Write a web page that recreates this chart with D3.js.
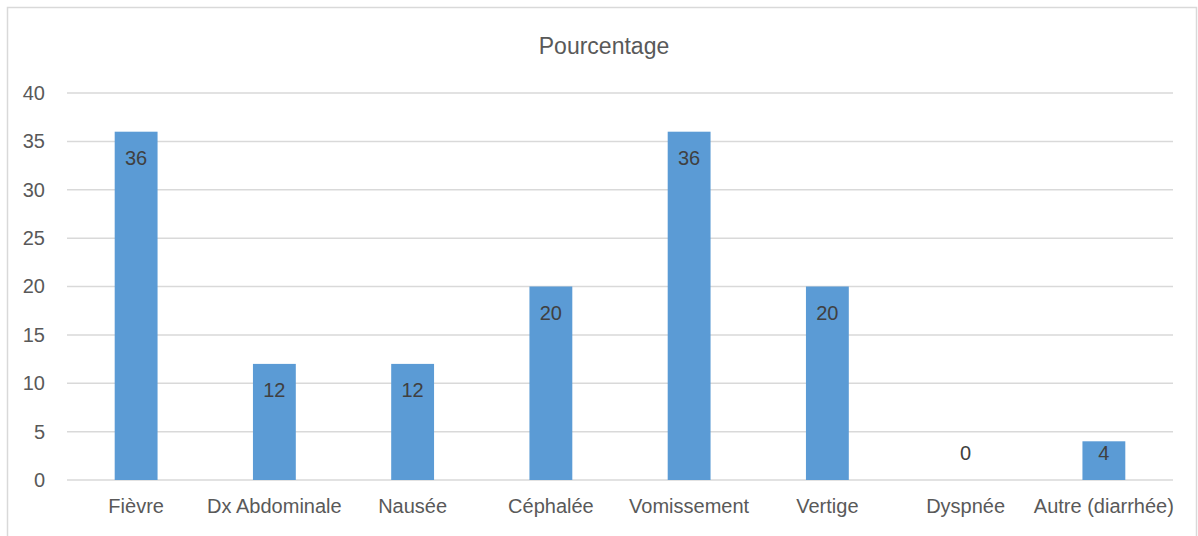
<!DOCTYPE html>
<html>
<head>
<meta charset="utf-8">
<script src="https://cdn.jsdelivr.net/npm/d3@7"></script>
<style>
  body { margin: 0; background: #fff; }
  text { font-family: "Liberation Sans", Arial, sans-serif; }
</style>
</head>
<body>
<div id="chart"></div>
<script>
var categories = ["Fièvre", "Dx Abdominale", "Nausée", "Céphalée", "Vomissement", "Vertige", "Dyspnée", "Autre (diarrhée)"];
var values = [36, 12, 12, 20, 36, 20, 0, 4];
var yTicks = [0, 5, 10, 15, 20, 25, 30, 35, 40];
var chartTitle = "Pourcentage";

var width = 1198, height = 536;

var svg = d3.select("#chart").append("svg")
	.attr("width", width)
	.attr("height", height);

// outer frame
svg.append("rect")
	.attr("x", 7.5).attr("y", 7.5)
	.attr("width", 1189).attr("height", 540)
	.attr("fill", "#fff")
	.attr("stroke", "#d9d9d9")
	.attr("stroke-width", 1.5);

var x = d3.scaleBand()
	.domain(categories)
	.range([67, 1173])
	.paddingInner(0.69)
	.paddingOuter(0.345);

var y = d3.scaleLinear()
	.domain([0, 40])
	.range([480, 93]);

svg.append("text")
	.attr("x", 604).attr("y", 54)
	.attr("text-anchor", "middle")
	.attr("font-size", 23)
	.attr("fill", "#595959")
	.text(chartTitle);

// gridlines
svg.selectAll("line.grid")
	.data(yTicks).enter().append("line")
	.attr("class", "grid")
	.attr("x1", 67).attr("x2", 1173)
	.attr("y1", function (d) { return y(d); })
	.attr("y2", function (d) { return y(d); })
	.attr("stroke", "#d9d9d9")
	.attr("stroke-width", 1.5);

var yAxis = svg.append("g")
	.attr("transform", "translate(49,0)")
	.call(d3.axisLeft(y).tickValues(yTicks).tickSize(0).tickPadding(4));
yAxis.select(".domain").remove();
yAxis.selectAll("text")
	.attr("font-size", 20)
	.attr("fill", "#595959")
	.style("font-family", "'Liberation Sans', Arial, sans-serif");

var xAxis = svg.append("g")
	.attr("transform", "translate(0,480)")
	.call(d3.axisBottom(x).tickSize(0).tickPadding(19));
xAxis.select(".domain").remove();
xAxis.selectAll("text")
	.attr("font-size", 20)
	.attr("fill", "#595959")
	.style("font-family", "'Liberation Sans', Arial, sans-serif");

svg.selectAll("rect.bar")
	.data(values).enter().append("rect")
	.attr("class", "bar")
	.attr("x", function (d, i) { return x(categories[i]); })
	.attr("y", function (d) { return y(d); })
	.attr("width", x.bandwidth())
	.attr("height", function (d) { return y(0) - y(d); })
	.attr("fill", "#5b9bd5");

svg.selectAll("text.lbl")
	.data(values).enter().append("text")
	.attr("class", "lbl")
	.attr("x", function (d, i) { return x(categories[i]) + x.bandwidth() / 2; })
	.attr("y", function (d) { return Math.min(y(d) + 26, y(0) - 27) + 7; })
	.attr("text-anchor", "middle")
	.attr("font-size", 20)
	.attr("fill", "#404040")
	.text(function (d) { return d; });
</script>
</body>
</html>
